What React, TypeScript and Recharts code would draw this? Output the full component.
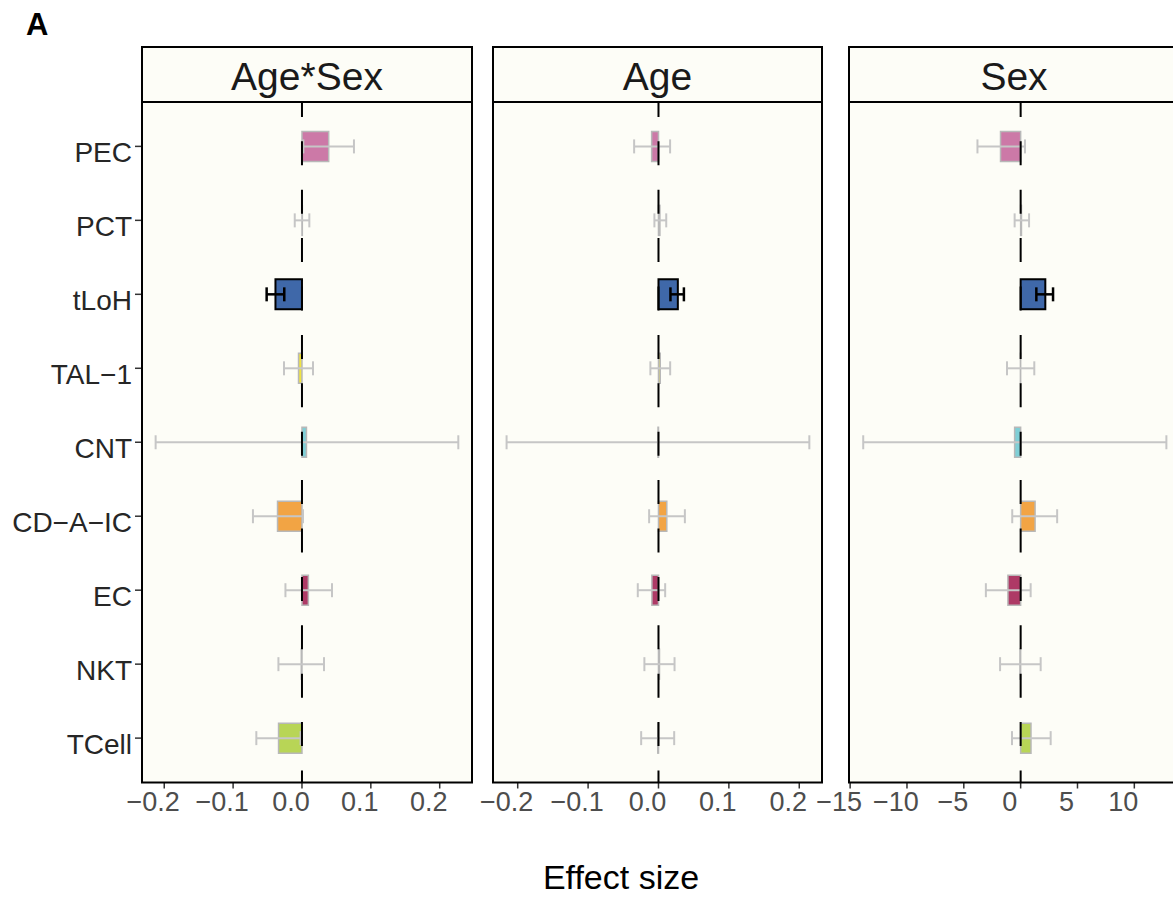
import React from "react";
import { BarChart, Bar, XAxis, YAxis, ErrorBar, Cell, ReferenceLine } from "recharts";

const FONT = '"Liberation Sans", Arial, Helvetica, sans-serif';

const cellTypes = ["PEC", "PCT", "tLoH", "TAL−1", "CNT", "CD−A−IC", "EC", "NKT", "TCell"];
const cellColors = ["#CC79A7", "#A0A0A0", "#3F68A9", "#F0E442", "#7FCFD6", "#F2A444", "#AE3A66", "#9DB7D8", "#B8D556"];
const significant = [false, false, true, false, false, false, false, false, false];

// Age*Sex
const ageSexEst = [0.0388, 0.0005, -0.0385, -0.005, 0.0065, -0.0355, 0.0093, -0.001, -0.034];
const ageSexLow = [0.002, -0.0105, -0.0513, -0.0261, -0.2125, -0.0712, -0.024, -0.0342, -0.0663];
const ageSexHigh = [0.0755, 0.0107, -0.0257, 0.016, 0.227, 0.0015, 0.0436, 0.032, -0.002];

// Age
const ageEst = [-0.0097, 0.002, 0.0275, 0.0025, -0.0007, 0.0118, -0.0094, 0.0014, -0.001];
const ageLow = [-0.0346, -0.0058, 0.017, -0.0115, -0.2158, -0.0133, -0.0294, -0.02, -0.0246];
const ageHigh = [0.0165, 0.011, 0.0361, 0.0166, 0.2143, 0.0375, 0.0095, 0.0228, 0.0223];

// Sex
const sexEst = [-1.77, 0.07, 2.17, -0.02, -0.53, 1.27, -1.12, -0.06, 0.91];
const sexLow = [-3.8, -0.53, 1.38, -1.2, -13.85, -0.74, -3.06, -1.81, -0.76];
const sexHigh = [0.38, 0.74, 2.85, 1.2, 12.82, 3.21, 0.88, 1.76, 2.64];

const smallTicks = [-0.2, -0.1, 0, 0.1, 0.2];
const sexTicks = [-15, -10, -5, 0, 5, 10];

const PANEL_TOP = 102;
const PANEL_BOTTOM = 782.5;
const STRIP_TOP = 47;
const SIDE = 45;
const BG = "#FDFDF7";

const fmtDec = (v: number) => v.toFixed(1).replace("-", "−");
const fmtInt = (v: number) => String(v).replace("-", "−");

function buildRows(est: number[], low: number[], high: number[]) {
  return cellTypes.map((cell, i) => {
    const err = [est[i] - low[i], high[i] - est[i]];
    return {
      cell,
      est: est[i],
      nsErr: significant[i] ? undefined : err,
      sigErr: significant[i] ? err : undefined,
    };
  });
}

const panels = [
  { title: "Age*Sex", left: 142, width: 330, domain: [-0.2323, 0.2469], ticks: smallTicks, fmt: fmtDec, rows: buildRows(ageSexEst, ageSexLow, ageSexHigh) },
  { title: "Age", left: 493, width: 329, domain: [-0.2351, 0.2323], ticks: smallTicks, fmt: fmtDec, rows: buildRows(ageEst, ageLow, ageHigh) },
  { title: "Sex", left: 849, width: 330, domain: [-15.1, 13.93], ticks: sexTicks, fmt: fmtInt, rows: buildRows(sexEst, sexLow, sexHigh) },
];

function XTick(props: any) {
  const { x, y, payload, fmt } = props;
  return (
    <text x={x - 11} y={y + 22} textAnchor="middle" fontSize={27} fill="#4D4D4D" fontFamily={FONT}>
      {fmt(payload.value)}
    </text>
  );
}

function YTick(props: any) {
  const { x, y, payload } = props;
  return (
    <text x={x} y={y + 16} textAnchor="end" fontSize={28} fill="#262626" fontFamily={FONT}>
      {payload.value}
    </text>
  );
}

function Panel({ p, first }: { p: (typeof panels)[number]; first: boolean }) {
  const plotH = PANEL_BOTTOM - PANEL_TOP;
  const unit = plotH / 9.2;
  const pad = unit * 0.1;
  const chartLeft = first ? 0 : p.left - SIDE;
  const yAxisW = first ? p.left : 0;
  const width = (first ? yAxisW : SIDE) + p.width + SIDE;
  return (
    <div style={{ position: "absolute", left: chartLeft, top: 0 }}>
      <BarChart
        width={width}
        height={897}
        layout="vertical"
        data={p.rows}
        margin={{ top: PANEL_TOP, right: SIDE, bottom: 0, left: first ? 0 : SIDE }}
        barSize={30}
      >
        <XAxis
          type="number"
          domain={p.domain}
          ticks={p.ticks}
          allowDataOverflow
          interval={0}
          axisLine={false}
          tickLine={{ stroke: "#333333", strokeWidth: 1.5 }}
          tickSize={6}
          tickMargin={0}
          height={897 - PANEL_BOTTOM}
          tick={<XTick fmt={p.fmt} />}
        />
        <YAxis
          type="category"
          dataKey="cell"
          hide={!first}
          width={yAxisW}
          padding={{ top: pad, bottom: pad }}
          axisLine={false}
          tickLine={{ stroke: "#333333", strokeWidth: 1.5 }}
          tickSize={7}
          tickMargin={3}
          interval={0}
          tick={<YTick />}
        />
        <Bar dataKey="est" isAnimationActive={false}>
          {p.rows.map((r, i) => (
            <Cell
              key={r.cell}
              fill={cellColors[i]}
              stroke={significant[i] ? "#000000" : "#B8B8B8"}
              strokeWidth={significant[i] ? 2 : 1.5}
            />
          ))}
          <ErrorBar dataKey="nsErr" direction="x" width={7} stroke="#C6C6C6" strokeWidth={2} isAnimationActive={false} />
          <ErrorBar dataKey="sigErr" direction="x" width={7} stroke="#000000" strokeWidth={2.5} isAnimationActive={false} />
        </Bar>
        <ReferenceLine x={0} stroke="#000000" strokeWidth={2} strokeDasharray="24 24.4" strokeDashoffset={12} />
      </BarChart>
    </div>
  );
}

export default function App() {
  return (
    <div style={{ position: "absolute", left: 0, top: 0, width: 1173, height: 897, overflow: "hidden", background: "#FFFFFF" }}>
      <svg width={1173} height={897} style={{ position: "absolute", left: 0, top: 0 }}>
        {panels.map((p) => (
          <rect key={p.title} x={p.left} y={PANEL_TOP} width={p.width} height={PANEL_BOTTOM - PANEL_TOP} fill={BG} />
        ))}
      </svg>
      {panels.map((p, i) => (
        <Panel key={p.title} p={p} first={i === 0} />
      ))}
      <svg width={1173} height={897} style={{ position: "absolute", left: 0, top: 0, pointerEvents: "none" }}>
        {panels.map((p) => (
          <g key={p.title}>
            <rect x={p.left} y={PANEL_TOP} width={p.width} height={PANEL_BOTTOM - PANEL_TOP} fill="none" stroke="#000000" strokeWidth={2} />
            <rect x={p.left} y={STRIP_TOP} width={p.width} height={PANEL_TOP - STRIP_TOP} fill={BG} stroke="#000000" strokeWidth={2} />
            <text x={p.left + p.width / 2} y={90} textAnchor="middle" fontSize={39} fill="#1A1A1A" fontFamily={FONT}>
              {p.title}
            </text>
          </g>
        ))}
        <text x={26} y={35} fontSize={31} fontWeight="bold" fill="#000000" fontFamily={FONT}>
          A
        </text>
        <text x={621} y={889} textAnchor="middle" fontSize={34} fill="#000000" fontFamily={FONT}>
          Effect size
        </text>
      </svg>
    </div>
  );
}
